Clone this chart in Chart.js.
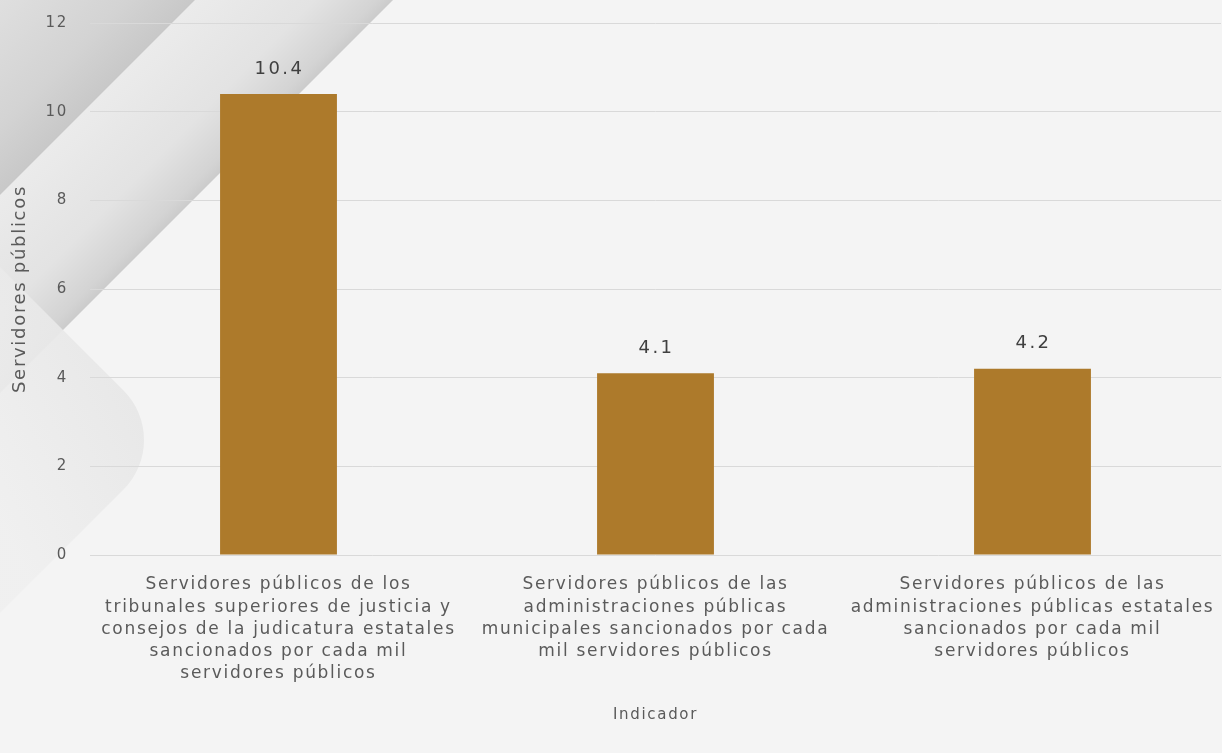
<!DOCTYPE html>
<html>
<head>
<meta charset="utf-8">
<script src="https://cdn.jsdelivr.net/npm/chart.js@4.4.0/dist/chart.umd.min.js"></script>
<style>
  html, body { margin: 0; padding: 0; background: #f4f4f4; }
  #wrap { width: 1222px; height: 753px; position: relative; }
</style>
</head>
<body>
<div id="wrap"><canvas id="grafica"></canvas></div>
<script>
// Datos del gráfico
var categorias = [
    ['Servidores públicos de los', 'tribunales superiores de justicia y', 'consejos de la judicatura estatales', 'sancionados por cada mil', 'servidores públicos'],
    ['Servidores públicos de las', 'administraciones públicas', 'municipales sancionados por cada', 'mil servidores públicos'],
    ['Servidores públicos de las', 'administraciones públicas estatales', 'sancionados por cada mil', 'servidores públicos']
];
var valores = [10.4, 4.1, 4.2];
var ejeY = { min: 0, max: 12, paso: 2 };

var colorBarra = '#ad7a2b';
var colorTexto = '#5a5a5a';
var fuente = "'DejaVu Sans', sans-serif";
var espaciado = '1.7px';

// Fondo decorativo (franjas grises de la esquina)
var fondo = {
    id: 'fondo',
    beforeDraw: function(chart) {
        var ctx = chart.ctx;
        var w = chart.width, h = chart.height;
        ctx.save();
        ctx.fillStyle = '#f4f4f4';
        ctx.fillRect(0, 0, w, h);

        // franja media, entre x+y=195 y x+y=393
        var g2 = ctx.createLinearGradient(98, 98, 197, 197);
        g2.addColorStop(0, '#ebebeb');
        g2.addColorStop(0.6, '#e3e3e3');
        g2.addColorStop(0.92, '#d3d3d3');
        g2.addColorStop(1, '#cbcbcb');
        ctx.fillStyle = g2;
        ctx.beginPath();
        ctx.moveTo(195, 0);
        ctx.lineTo(393, 0);
        ctx.lineTo(0, 393);
        ctx.lineTo(0, 195);
        ctx.closePath();
        ctx.fill();

        // triángulo de la esquina
        var g1 = ctx.createLinearGradient(98, 98, 0, 0);
        g1.addColorStop(0, '#c8c8c8');
        g1.addColorStop(0.35, '#d3d3d3');
        g1.addColorStop(1, '#dfdfdf');
        ctx.fillStyle = g1;
        ctx.beginPath();
        ctx.moveTo(0, 0);
        ctx.lineTo(195, 0);
        ctx.lineTo(0, 195);
        ctx.closePath();
        ctx.fill();

        // rombo redondeado claro
        var g3 = ctx.createLinearGradient(160, 440, 0, 520);
        g3.addColorStop(0, 'rgba(231,231,231,0.95)');
        g3.addColorStop(1, 'rgba(239,239,239,0.85)');
        ctx.fillStyle = g3;
        ctx.beginPath();
        ctx.moveTo(-227, 40);
        ctx.arcTo(173, 440, -227, 840, 70);
        ctx.lineTo(-227, 840);
        ctx.lineTo(-627, 440);
        ctx.closePath();
        ctx.fill();
        ctx.restore();
        ctx.letterSpacing = espaciado;
    },
    beforeUpdate: function(chart) {
        chart.ctx.letterSpacing = espaciado;
    }
};

// Etiquetas de valor encima de las barras
var etiquetas = {
    id: 'etiquetas',
    afterDatasetsDraw: function(chart) {
        var ctx = chart.ctx;
        var meta = chart.getDatasetMeta(0);
        ctx.save();
        ctx.letterSpacing = '2.5px';
        ctx.font = '18px ' + fuente;
        ctx.fillStyle = '#404040';
        ctx.textAlign = 'center';
        ctx.textBaseline = 'middle';
        meta.data.forEach(function(bar, i) {
            ctx.fillText(valores[i].toFixed(1), bar.x + 1, bar.y - 25);
        });
        ctx.restore();
    }
};

var ctx = document.getElementById('grafica').getContext('2d');
var grafica = new Chart(ctx, {
    type: 'bar',
    data: {
        labels: categorias,
        datasets: [{
            data: valores,
            backgroundColor: colorBarra,
            categoryPercentage: 1,
            barPercentage: 0.31
        }]
    },
    options: {
        responsive: true,
        maintainAspectRatio: false,
        animation: false,
        layout: { padding: { left: 6, top: 23, right: 1, bottom: 25 } },
        plugins: {
            legend: { display: false },
            tooltip: { enabled: false }
        },
        scales: {
            x: {
                grid: { display: false, drawTicks: false },
                border: { display: false },
                ticks: {
                    color: colorTexto,
                    font: { family: fuente, size: 17, lineHeight: 1.3 },
                    padding: 19,
                    maxRotation: 0,
                    autoSkip: false
                },
                title: {
                    display: true,
                    text: 'Indicador',
                    color: colorTexto,
                    font: { family: fuente, size: 15 }
                },
                afterFit: function(scale) {
                    scale.height = 173;
                    scale.paddingLeft = 0;
                    scale.paddingRight = 0;
                }
            },
            y: {
                min: ejeY.min,
                max: ejeY.max,
                grid: { color: '#d9d9d9', drawTicks: false },
                border: { display: false },
                ticks: {
                    stepSize: ejeY.paso,
                    color: colorTexto,
                    font: { family: fuente, size: 15 },
                    padding: 22
                },
                title: {
                    display: true,
                    text: 'Servidores públicos',
                    color: colorTexto,
                    font: { family: fuente, size: 18 }
                },
                afterFit: function(scale) {
                    scale.width = 84;
                    scale.paddingTop = 0;
                }
            }
        }
    },
    plugins: [fondo, etiquetas]
});
</script>
</body>
</html>
